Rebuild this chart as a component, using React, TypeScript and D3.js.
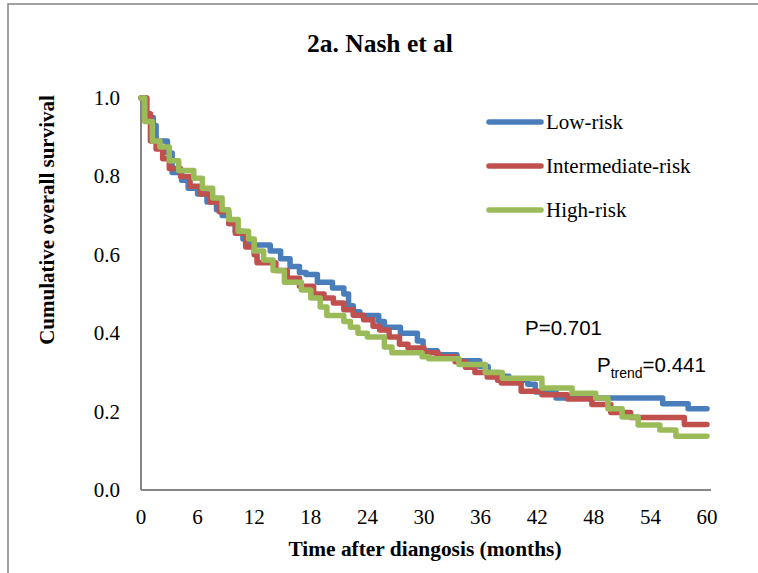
import React from "react";
import * as d3 from "d3";

const title = "2a. Nash et al";
const xTicks = [0, 6, 12, 18, 24, 30, 36, 42, 48, 54, 60];
const yTicks = [0, 0.2, 0.4, 0.6, 0.8, 1.0];
const seriesNames = ["Low-risk", "Intermediate-risk", "High-risk"];
const seriesColors = ["#4A7EBB", "#C0504D", "#9BBB59"];

// [months, cumulative survival] step points
const lowRisk: [number, number][] = [
  [0, 1], [0.6, 0.95], [1.3, 0.93], [1.6, 0.89], [2.8, 0.86], [3.3, 0.81], [4.3, 0.79], [5.0, 0.77],
  [6.0, 0.755], [7.0, 0.735], [8.0, 0.715], [8.6, 0.7], [9.3, 0.68], [10.0, 0.66], [10.8, 0.64],
  [11.5, 0.625], [13.7, 0.61], [14.8, 0.59], [15.8, 0.57], [16.8, 0.555], [17.5, 0.55], [18.7, 0.53],
  [20.3, 0.515], [21.5, 0.5], [22.0, 0.47], [22.5, 0.455], [23.2, 0.445], [25.2, 0.43], [25.8, 0.415],
  [27.5, 0.4], [29.3, 0.38], [29.9, 0.355], [31.4, 0.345], [33.5, 0.33], [35.9, 0.315], [36.8, 0.3],
  [38.0, 0.29], [39.0, 0.28], [41.0, 0.27], [41.8, 0.25], [44.0, 0.235], [55.3, 0.22], [58.0, 0.207],
  [60, 0.207],
];
const intermediateRisk: [number, number][] = [
  [0, 1], [0.6, 0.96], [1.0, 0.89], [1.6, 0.87], [2.3, 0.845], [3.0, 0.82], [4.2, 0.8], [5.2, 0.775],
  [6.3, 0.755], [7.3, 0.735], [8.3, 0.71], [9.3, 0.68], [10.0, 0.655], [11.1, 0.62], [12.0, 0.6],
  [12.3, 0.58], [14.3, 0.56], [15.5, 0.54], [16.8, 0.52], [18.3, 0.5], [19.4, 0.49], [20.4, 0.477],
  [21.5, 0.46], [22.5, 0.446], [23.6, 0.434], [24.6, 0.418], [25.3, 0.408], [26.3, 0.39], [27.4, 0.372],
  [28.3, 0.362], [30.0, 0.35], [31.5, 0.34], [33.3, 0.327], [34.4, 0.313], [35.4, 0.3], [36.7, 0.288],
  [37.8, 0.28], [38.2, 0.273], [40.3, 0.252], [42.5, 0.243], [45.2, 0.232], [47.8, 0.218], [49.8, 0.198],
  [51.9, 0.185], [57.6, 0.167], [60, 0.167],
];
const highRisk: [number, number][] = [
  [0, 1], [0.4, 0.94], [1.2, 0.89], [2.0, 0.875], [3.0, 0.84], [4.0, 0.815], [5.6, 0.795], [6.5, 0.77],
  [7.6, 0.745], [8.6, 0.715], [9.3, 0.69], [10.3, 0.66], [11.4, 0.64], [12.0, 0.61], [13.0, 0.587],
  [14.0, 0.56], [15.2, 0.53], [17.0, 0.51], [18.0, 0.49], [19.0, 0.467], [19.7, 0.445], [21.5, 0.43],
  [22.2, 0.415], [23.0, 0.4], [24.0, 0.39], [25.8, 0.365], [26.6, 0.35], [29.8, 0.34], [30.5, 0.335],
  [33.7, 0.32], [36.5, 0.3], [38.3, 0.285], [42.5, 0.26], [45.7, 0.247], [48.2, 0.235], [49.5, 0.207],
  [51.0, 0.186], [52.7, 0.166], [55.0, 0.153], [56.7, 0.137], [60, 0.137],
];
const seriesData = [lowRisk, intermediateRisk, highRisk];

const pText = "P=0.701";
const pTrendValue = "=0.441";

export default function App() {
  const x = d3.scaleLinear().domain([0, 60]).range([141, 707]);
  const y = d3.scaleLinear().domain([0, 1]).range([490, 98]);
  const line = d3
    .line<[number, number]>()
    .x((d) => x(d[0]))
    .y((d) => y(d[1]))
    .curve(d3.curveStepAfter);
  const serif = "'Liberation Serif', 'Times New Roman', serif";
  const sans = "'Liberation Sans', Arial, sans-serif";
  const legendY = [122, 166, 210];

  return (
    <svg
      width={758}
      height={573}
      style={{ position: "absolute", left: 0, top: 0, background: "#fff" }}
    >
      <rect x={8} y={4} width={800} height={620} fill="#fff" stroke="#8a8a8a" strokeWidth={1.6} />
      <text x={380} y={52} textAnchor="middle" fontFamily={serif} fontWeight="bold" fontSize={25.5}>
        {title}
      </text>
      {/* axes */}
      <line x1={x(0)} x2={x(0)} y1={y(1)} y2={y(0)} stroke="#868686" strokeWidth={2} />
      <line x1={x(0)} x2={711} y1={y(0)} y2={y(0)} stroke="#868686" strokeWidth={2} />
      {yTicks.map((t) => (
        <text key={t} x={120} y={y(t) + 7} textAnchor="end" fontFamily={serif} fontSize={21}>
          {d3.format(".1f")(t)}
        </text>
      ))}
      {xTicks.map((t) => (
        <text key={t} x={x(t)} y={524} textAnchor="middle" fontFamily={serif} fontSize={21}>
          {t}
        </text>
      ))}
      <text
        transform={`translate(54,220) rotate(-90)`}
        textAnchor="middle"
        fontFamily={serif}
        fontWeight="bold"
        fontSize={21}
      >
        Cumulative overall survival
      </text>
      <text x={425} y={556} textAnchor="middle" fontFamily={serif} fontWeight="bold" fontSize={21.4}>
        Time after diangosis (months)
      </text>
      {/* curves */}
      {seriesData.map((d, i) => (
        <path
          key={i}
          d={line(d) || ""}
          fill="none"
          stroke={seriesColors[i]}
          strokeWidth={5.5}
          strokeLinejoin="round"
          strokeLinecap="round"
        />
      ))}
      {/* legend */}
      {seriesNames.map((n, i) => (
        <g key={n}>
          <line x1={489} x2={541} y1={legendY[i]} y2={legendY[i]} stroke={seriesColors[i]} strokeWidth={5.5} strokeLinecap="round" />
          <text x={546} y={legendY[i] + 7} fontFamily={serif} fontSize={21}>
            {n}
          </text>
        </g>
      ))}
      <text x={525} y={335} fontFamily={sans} fontSize={20.5}>
        {pText}
      </text>
      <text x={597} y={372} fontFamily={sans} fontSize={20.5}>
        P
        <tspan fontSize={14} dy={6}>trend</tspan>
        <tspan fontSize={20.5} dy={-6}>{pTrendValue}</tspan>
      </text>
    </svg>
  );
}
